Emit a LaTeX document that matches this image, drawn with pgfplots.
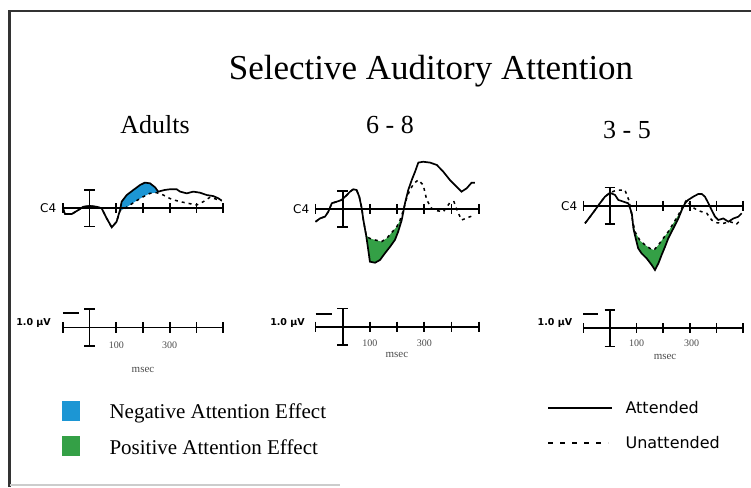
\documentclass[border=0pt]{standalone}
\usepackage{fontspec}
\setmainfont{Liberation Serif}
\newfontfamily\pix{DejaVu Sans}
\usepackage{pgfplots}
\pgfplotsset{compat=1.18}
\usepgfplotslibrary{fillbetween}

\definecolor{negblue}{RGB}{28,150,212}
\definecolor{posgreen}{RGB}{52,160,70}

\pgfplotsset{
  erp/.style={hide axis, scale only axis, clip=false,
    xmin=-100, xmax=500, ymin=-4, ymax=9, y dir=reverse,
    height=221pt, set layers, anchor=north west},
  att/.style={black, line width=1.7pt, mark=none},
  unatt/.style={black, line width=1.5pt, mark=none, dash pattern=on 3pt off 4pt},
}
\tikzset{cal/.style={black, line width=1.7pt}}

% baseline with ticks and the +-1 uV bar at t = 0
\newcommand\erpbase[1]{%
  \draw[cal, yshift=#1] (axis cs:-100,0) -- (axis cs:500,0);
  \pgfplotsinvokeforeach{-100,100,200,300,400,500}{%
    \draw[cal, yshift=#1] (axis cs:##1,-0.3) -- (axis cs:##1,0.3);}
  \draw[cal, yshift=#1] (axis cs:0,-1.07) -- (axis cs:0,1.07)
    (axis cs:-20,-1.07) -- (axis cs:20,-1.07)
    (axis cs:-20,1.07) -- (axis cs:20,1.07);
}

\begin{document}
\begin{tikzpicture}
\begin{scope}[x=1pt,y=1pt]
  \path[use as bounding box] (0,0) rectangle (751,-487);
  \draw[line width=2.5pt, black!80] (9.5,-487) -- (9.5,-11) -- (751,-11);
  \draw[line width=1.5pt, black!20] (10,-485) -- (340,-485);
  \node[anchor=base, font=\fontsize{35}{40}\selectfont] at (431,-79) {Selective Auditory Attention};
  \node[anchor=base, font=\fontsize{26}{30}\selectfont] at (155,-133) {Adults};
  \node[anchor=base, font=\fontsize{26}{30}\selectfont] at (390,-133) {6 - 8};
  \node[anchor=base, font=\fontsize{26}{30}\selectfont] at (627,-138) {3 - 5};
  % legend
  \fill[negblue] (62,-401) rectangle (80,-421);
  \fill[posgreen] (62,-436) rectangle (80,-456);
  \node[anchor=base west, font=\fontsize{21}{24}\selectfont] at (106,-418) {Negative Attention Effect};
  \node[anchor=base west, font=\fontsize{21}{24}\selectfont] at (106,-454) {Positive Attention Effect};
  \draw[line width=1.5pt] (548,-408) -- (612,-408);
  \draw[line width=1.5pt, dash pattern=on 5pt off 7pt] (548,-443) -- (608,-443);
  \node[anchor=west, font=\pix\fontsize{16}{18}\selectfont] at (622,-408) {Attended};
  \node[anchor=west, font=\pix\fontsize{16}{18}\selectfont] at (622,-443) {Unattended};
\end{scope}

% ---------- Adults ----------
\begin{axis}[erp, width=160.2pt, at={(62.9pt,-140.3pt)}]
  \erpbase{0pt}
  \erpbase{-119.2pt}
  \draw[cal] (axis cs:-100,6.14) -- (axis cs:-40,6.14);
  \node[font=\pix\fontsize{12}{13}\selectfont, anchor=east] at (axis cs:-112,0) {C4};
  \node[font=\pix\bfseries\fontsize{9.5}{10}\selectfont] at (axis cs:-210,6.73) {1.0 µV};
  \node[font=\fontsize{10}{11}\selectfont, text=black!70] at (axis cs:100,8.04) {100};
  \node[font=\fontsize{10}{11}\selectfont, text=black!70] at (axis cs:300,8.04) {300};
  \node[font=\fontsize{11}{12}\selectfont, text=black!70] at (axis cs:200,9.51) {msec};
  \addplot[att, name path=aA] coordinates {
    (-100,0) (-92,0.34) (-67,0.34) (-42,0.10) (-24,-0.09) (1,-0.14) (27,-0.09)
    (45,0) (64,0.59) (83,1.12) (101,0.79) (114,0.10) (120,-0.39) (139,-0.78)
    (164,-1.08) (189,-1.37) (207,-1.51) (226,-1.47) (245,-1.24) (257,-0.98)
    (282,-1.08) (301,-1.12) (326,-1.12) (339,-0.98) (364,-0.88) (388,-0.98)
    (413,-0.92) (439,-0.78) (463,-0.72) (482,-0.59) (495,-0.45)};
  \addplot[unatt, name path=aU] coordinates {
    (-100,0) (-92,0.34) (-67,0.34) (-42,0.10) (-24,-0.09) (1,-0.14) (27,-0.09)
    (45,0) (64,0.59) (83,1.12) (101,0.79) (114,0.14) (133,0) (151,-0.19)
    (176,-0.45) (201,-0.68) (226,-0.88) (251,-0.92) (276,-0.78) (307,-0.53)
    (339,-0.39) (370,-0.29) (401,-0.19) (426,-0.39) (451,-0.65) (476,-0.53)
    (495,-0.45)};
  \addplot[negblue] fill between[of=aA and aU, soft clip={domain=112:256}];
\end{axis}

% ---------- 6 - 8 ----------
\begin{axis}[erp, width=163.2pt, at={(315.5pt,-141pt)}]
  \erpbase{0pt}
  \erpbase{-117.7pt}
  \draw[cal] (axis cs:-100,6.19) -- (axis cs:-40,6.19);
  \node[font=\pix\fontsize{12}{13}\selectfont, anchor=east] at (axis cs:-110,0) {C4};
  \node[font=\pix\bfseries\fontsize{9.5}{10}\selectfont] at (axis cs:-203,6.70) {1.0 µV};
  \node[font=\fontsize{10}{11}\selectfont, text=black!70] at (axis cs:100,7.88) {100};
  \node[font=\fontsize{10}{11}\selectfont, text=black!70] at (axis cs:300,7.88) {300};
  \node[font=\fontsize{11}{12}\selectfont, text=black!70] at (axis cs:199,8.58) {msec};
  \addplot[att, name path=bA] coordinates {
    (-100,0.75) (-83,0.55) (-65,0.45) (-53,0.16) (-40,-0.34) (-22,-0.43)
    (-4,-0.53) (15,-0.82) (27,-1.02) (39,-1.16) (51,-1.12) (61,-0.72)
    (70,-0.04) (76,0.65) (86,1.53) (94,2.41) (100,3.10) (119,3.16) (137,3.00)
    (155,2.61) (174,2.22) (192,1.82) (204,1.33) (217,0.65) (229,-0.34)
    (241,-1.12) (254,-1.71) (266,-2.19) (278,-2.73) (296,-2.78) (321,-2.73)
    (346,-2.59) (370,-2.19) (394,-1.71) (419,-1.31) (437,-1.02) (456,-1.22)
    (474,-1.55) (486,-1.55)};
  \addplot[unatt, name path=bU] coordinates {
    (-100,0.75) (-83,0.55) (-65,0.45) (-53,0.16) (-40,-0.34) (-22,-0.43)
    (-4,-0.53) (15,-0.82) (27,-1.02) (39,-1.16) (51,-1.12) (61,-0.72)
    (70,-0.04) (76,0.65) (86,1.53) (98,1.72) (119,1.82) (143,1.92) (162,1.72)
    (180,1.39) (199,1.04) (211,0.65) (223,0.06) (235,-0.63) (247,-1.12)
    (262,-1.51) (278,-1.71) (296,-1.41) (309,-0.53) (327,-0.04) (346,0.10)
    (370,0.16) (394,-0.37) (409,-0.43) (421,0.10) (437,0.65) (462,0.49)
    (486,0.35)};
  \addplot[posgreen] fill between[of=bA and bU, soft clip={domain=88:213}];
\end{axis}

% ---------- 3 - 5 ----------
\begin{axis}[erp, width=159.6pt, at={(583.4pt,-137.7pt)}]
  \erpbase{0pt}
  \erpbase{-122.6pt}
  \draw[cal] (axis cs:-100,6.39) -- (axis cs:-45,6.39);
  \node[font=\pix\fontsize{12}{13}\selectfont, anchor=east] at (axis cs:-110,0) {C4};
  \node[font=\pix\bfseries\fontsize{9.5}{10}\selectfont] at (axis cs:-207,6.92) {1.0 µV};
  \node[font=\fontsize{10}{11}\selectfont, text=black!70] at (axis cs:100,8.09) {100};
  \node[font=\fontsize{10}{11}\selectfont, text=black!70] at (axis cs:307,8.09) {300};
  \node[font=\fontsize{11}{12}\selectfont, text=black!70] at (axis cs:207,8.88) {msec};
  \addplot[att, name path=cA] coordinates {
    (-94,1.04) (-75,0.65) (-56,0.25) (-38,-0.14) (-19,-0.53) (0,-0.76)
    (19,-0.63) (31,-0.34) (50,-0.24) (69,-0.14) (82,0.45) (88,1.34) (98,2.02)
    (106,2.51) (119,2.81) (138,3.10) (157,3.49) (169,3.78) (182,3.39)
    (194,2.90) (207,2.41) (219,1.92) (238,1.34) (257,0.75) (270,0.25)
    (282,-0.14) (294,-0.34) (313,-0.53) (332,-0.69) (345,-0.69) (357,-0.53)
    (370,-0.14) (382,0.25) (395,0.65) (407,0.84) (426,0.75) (445,0.94)
    (464,0.75) (482,0.65) (495,0.45)};
  \addplot[unatt, name path=cU] coordinates {
    (-94,1.04) (-75,0.65) (-56,0.25) (-38,-0.14) (-19,-0.53) (0,-0.76)
    (25,-0.92) (56,-0.92) (73,-0.24) (82,0.65) (94,1.53) (113,2.06)
    (132,2.31) (150,2.51) (165,2.61) (182,2.31) (200,1.92) (219,1.53)
    (238,1.04) (257,0.55) (276,-0.04) (288,-0.34) (307,0.06) (332,0.29)
    (364,0.45) (382,0.84) (401,1.0) (426,1.04) (451,0.94) (476,1.08)
    (491,0.84)};
  \addplot[posgreen] fill between[of=cA and cU, soft clip={domain=88:286}];
\end{axis}
\end{tikzpicture}
\end{document}
